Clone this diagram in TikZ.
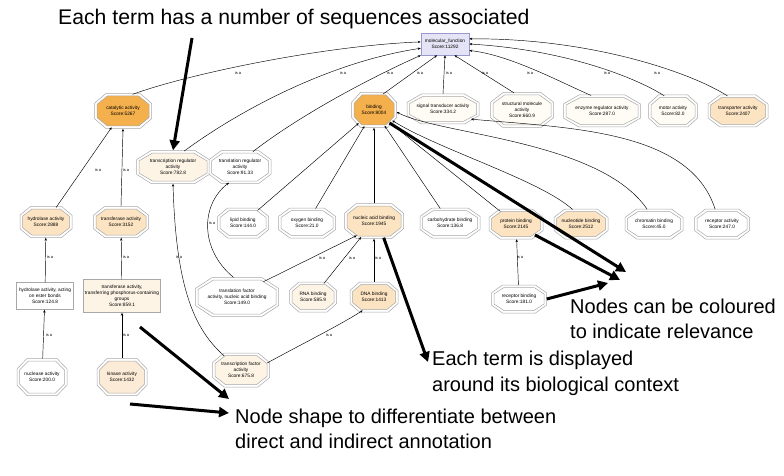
\documentclass[tikz,border=0pt]{standalone}
\usepackage{fontspec}
\setmainfont{Liberation Sans}
\usetikzlibrary{arrows.meta,shapes.geometric}
\definecolor{strongorange}{HTML}{F4B04C}
\definecolor{lightorange}{HTML}{FCE3C2}
\definecolor{midorange}{HTML}{FCEBD6}
\definecolor{cream}{HTML}{FDF4E6}
\definecolor{paleterm}{HTML}{FFFBF5}
\definecolor{mfblue}{HTML}{E4E4F6}
\definecolor{bordergray}{HTML}{A8A8A8}
\tikzset{
  octline/.style={draw=bordergray, line width=0.5pt},
  term/.style={ellipse, inner sep=0pt, align=center, font=\fontsize{4.8}{6}\selectfont},
  rectterm/.style={rectangle, draw=bordergray, line width=0.5pt, inner sep=1pt, align=center, font=\fontsize{4.8}{6}\selectfont},
  isa/.style={inner sep=0pt, font=\fontsize{4}{4}\selectfont},
  rel/.style={draw=black, line width=0.45pt, -{Stealth[length=3pt,width=2.4pt]}},
  callout/.style={draw=black, line width=3pt, -{Triangle[length=10pt,width=10pt]}},
  bigtext/.style={inner sep=0pt, anchor=base west, font=\fontsize{20}{25}\selectfont},
}
\newcommand{\octshape}[5]{%
  \path[#1] ({#2-(#4)/2},{#3-0.22*(#5)}) -- ({#2-0.3*(#4)},{#3-(#5)/2}) -- ({#2+0.3*(#4)},{#3-(#5)/2}) -- ({#2+(#4)/2},{#3-0.22*(#5)}) -- ({#2+(#4)/2},{#3+0.22*(#5)}) -- ({#2+0.3*(#4)},{#3+(#5)/2}) -- ({#2-0.3*(#4)},{#3+(#5)/2}) -- ({#2-(#4)/2},{#3+0.22*(#5)}) -- cycle;}
\newcommand{\termoct}[7]{%
  \octshape{octline,fill=white}{#2}{#3}{#4}{#5}
  \octshape{octline,fill=#6}{#2}{#3}{#4-5}{#5-5}
  \node[term, minimum width=#4pt, minimum height=#5pt] (#1) at (#2,#3) {#7};}
\begin{document}
\begin{tikzpicture}[x=1pt,y=-1pt]
\useasboundingbox (0,0) rectangle (784,476);
\fill[white] (0,0) rectangle (784,476);

% root
\node[rectterm, fill=mfblue, draw=black!45!blue!40, minimum width=48pt, minimum height=22pt] (mf) at (445,44) {molecular\_function\\Score:11292};

% row 1
\termoct{cat}{123}{111}{57}{35}{strongorange}{catalytic activity\\Score:5267}
\termoct{bind}{374}{110}{45}{35}{strongorange}{binding\\Score:8004}
\termoct{sig}{443}{109}{72}{30}{paleterm}{signal transducer activity\\Score:334.2}
\termoct{struct}{522}{110}{63}{35}{paleterm}{structural molecule\\activity\\Score:660.9}
\termoct{enz}{602}{111}{77}{32}{paleterm}{enzyme regulator activity\\Score:287.0}
\termoct{motor}{673}{111}{49}{32}{paleterm}{motor activity\\Score:82.0}
\termoct{transp}{738}{111}{60}{32}{lightorange}{transporter activity\\Score:2407}

% row 2
\termoct{trreg}{173}{167}{73}{33}{cream}{transcription regulator\\activity\\Score:782.8}
\termoct{tlreg}{240}{167}{62}{33}{white}{translation regulator\\activity\\Score:91.33}

% row 3
\termoct{hyd}{46}{222}{52}{31}{lightorange}{hydrolase activity\\Score:2888}
\termoct{trf}{121}{222}{55}{31}{lightorange}{transferase activity\\Score:3152}
\termoct{lip}{243}{223}{51}{30}{white}{lipid binding\\Score:144.0}
\termoct{oxy}{307}{223}{57}{30}{white}{oxygen binding\\Score:21.0}
\termoct{nacid}{374}{221}{59}{35}{lightorange}{nucleic acid binding\\Score:1945}
\termoct{carb}{450}{223}{60}{30}{white}{carbohydrate binding\\Score:136.8}
\termoct{prot}{516}{224}{54}{30}{lightorange}{protein binding\\Score:2145}
\termoct{nucl}{581}{224}{54}{30}{lightorange}{nucleotide binding\\Score:2512}
\termoct{chrom}{654}{224}{58}{30}{white}{chromatin binding\\Score:45.0}
\termoct{recact}{722}{224}{55}{30}{white}{receptor activity\\Score:247.0}

% row 4
\node[rectterm, fill=white, minimum width=57pt, minimum height=27pt] (hest) at (45,296) {hydrolase activity, acting\\on ester bonds\\Score:124.8};
\node[rectterm, fill=cream, minimum width=77pt, minimum height=33pt] (tpho) at (122,296) {transferase activity,\\transferring phosphorus-containing\\groups\\Score:859.1};
\termoct{tlfac}{237}{297}{83}{39}{white}{translation factor\\activity, nucleic acid binding\\Score:149.0}
\termoct{rna}{313}{297}{47}{30}{cream}{RNA binding\\Score:585.9}
\termoct{dna}{374}{297}{48}{30}{lightorange}{DNA binding\\Score:1413}
\termoct{recbind}{519}{299}{55}{28}{white}{receptor binding\\Score:181.0}

% row 5
\termoct{nuclease}{42}{377}{50}{37}{white}{nuclease activity\\Score:200.0}
\termoct{kinase}{122}{377}{50}{37}{midorange}{kinase activity\\Score:1432}
\termoct{trfac}{241}{370}{57}{34}{cream}{transcription factor\\activity\\Score:675.8}

% is-a relations (child -> parent)
\draw[rel] (cat.60) .. controls (185,75) and (320,46) .. (mf.175);
\draw[rel] (trreg.55) .. controls (240,110) and (330,62) .. (mf.190);
\draw[rel] (tlreg.50) .. controls (300,115) and (370,78) .. (mf.205);
\draw[rel] (bind.60) -- (mf.235);
\draw[rel] (sig.north) -- (mf.south);
\draw[rel] (struct.115) -- (mf.310);
\draw[rel] (enz.125) .. controls (560,82) and (510,55) .. (mf.345);
\draw[rel] (motor.120) .. controls (640,80) and (570,50) .. (mf.0);
\draw[rel] (transp.125) .. controls (690,72) and (590,38) .. (mf.12);

\draw[rel] (hyd) -- (cat);
\draw[rel] (trf.north) -- (cat.south);
\draw[rel] (hest) -- (hyd);
\draw[rel] (tpho) -- (trf);
\draw[rel] (nuclease) -- (hest);
\draw[rel] (kinase) -- (tpho);

\draw[rel] (trfac.140) .. controls (195,330) and (176,290) .. (trreg.south);
\draw[rel] (tlfac.100) .. controls (200,250) and (200,205) .. (tlreg.235);
\draw[rel] (tlfac.30) -- (nacid.220);
\draw[rel] (rna) -- (nacid);
\draw[rel] (dna) -- (nacid);
\draw[rel] (trfac.15) .. controls (300,345) and (340,325) .. (dna.230);

\draw[rel] (lip) -- (bind);
\draw[rel] (oxy) -- (bind);
\draw[rel] (nacid) -- (bind);
\draw[rel] (carb) -- (bind);
\draw[rel] (prot) -- (bind);
\draw[rel] (nucl.120) .. controls (540,180) and (440,150) .. (bind.-30);
\draw[rel] (chrom.115) .. controls (600,140) and (440,135) .. (bind.-5);
\draw[rel] (recact.115) .. controls (690,130) and (570,128) .. (sig.-20);
\draw[rel] (recbind) -- (prot);

% relation labels
\node[isa] (l1) at (238,73) {is a};
\node[isa] (l2) at (343,73) {is a};
\node[isa] (l3) at (390,73) {is a};
\node[isa] (l4) at (420,73) {is a};
\node[isa] (l5) at (449,73) {is a};
\node[isa] (l6) at (485,73) {is a};
\node[isa] (l7) at (530,73) {is a};
\node[isa] (l8) at (607,73) {is a};
\node[isa] (l9) at (657,73) {is a};
\node[isa] (l10) at (98,170) {is a};
\node[isa] (l11) at (126,170) {is a};
\node[isa] (l12) at (50,257) {is a};
\node[isa] (l13) at (126,257) {is a};
\node[isa] (l14) at (49,335) {is a};
\node[isa] (l15) at (126,335) {is a};
\node[isa] (l16) at (179,257) {is a};
\node[isa] (l17) at (212,223) {is a};
\node[isa] (l18) at (322,258) {is a};
\node[isa] (l19) at (352,258) {is a};
\node[isa] (l20) at (378,258) {is a};
\node[isa] (l21) at (329,335) {is a};
\node[isa] (l22) at (520,257) {is a};

% annotations
\node[bigtext, font=\fontsize{21.2}{25}\selectfont] (t1) at (58,25) {Each term has a number of sequences associated};
\node[bigtext] (t2a) at (570,313) {Nodes can be coloured};
\node[bigtext] (t2b) at (570,338) {to indicate relevance};
\node[bigtext] (t3a) at (432,365) {Each term is displayed};
\node[bigtext] (t3b) at (432,391) {around its biological context};
\node[bigtext] (t4a) at (235,423) {Node shape to differentiate between};
\node[bigtext] (t4b) at (235,448) {direct and indirect annotation};

\coordinate (c1) at (192,38);
\coordinate (c2a) at (626,272);
\coordinate (c2b) at (620,280);
\coordinate (c2c) at (608,283);
\coordinate (c3) at (428,362);
\coordinate (c4s) at (140,327);
\coordinate (c4a) at (229,399);
\coordinate (c5s) at (130,404);
\coordinate (c5a) at (229,413);

\draw[callout] (c1) -- (trreg.north);
\draw[callout] (bind.-40) -- (c2a);
\draw[callout] (prot.-30) -- (c2b);
\draw[callout] (recbind.east) -- (c2c);
\draw[callout] (nacid.-60) -- (c3);
\draw[callout] (c4s) -- (c4a);
\draw[callout] (c5s) -- (c5a);
\end{tikzpicture}
\end{document}
